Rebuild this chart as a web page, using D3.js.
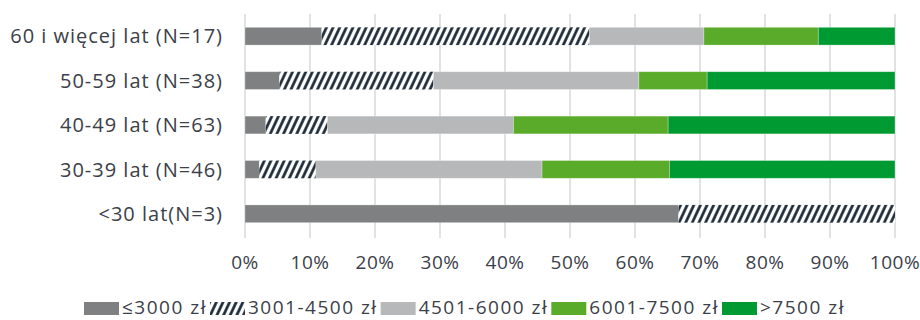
<!DOCTYPE html>
<html><head><meta charset="utf-8">
<script src="https://cdn.jsdelivr.net/npm/d3@7"></script>
<style>html,body{margin:0;padding:0;background:#fff;}svg{display:block;}</style>
</head><body>
<svg id="chart" width="920" height="320"></svg>
<script>
const categories = ["60 i więcej lat (N=17)", "50-59 lat (N=38)", "40-49 lat (N=63)", "30-39 lat (N=46)", "<30 lat(N=3)"];
const seriesNames = ["≤3000 zł", "3001-4500 zł", "4501-6000 zł", "6001-7500 zł", ">7500 zł"];
const s1 = [11.8, 5.3, 3.2, 2.2, 66.7];
const s2 = [41.2, 23.7, 9.5, 8.7, 33.3];
const s3 = [17.6, 31.6, 28.6, 34.8, 0];
const s4 = [17.6, 10.5, 23.8, 19.6, 0];
const s5 = [11.8, 28.9, 34.9, 34.7, 0];
const xTicks = [0, 10, 20, 30, 40, 50, 60, 70, 80, 90, 100];
const colors = ["#7f8081", "url(#hatch)", "#b7b8b9", "#5aab2a", "#009a33"];

const svg = d3.select("#chart");
const font = "'Open Sans', sans-serif";
const textColor = "#3b4049";

const defs = svg.append("defs");
const pat = defs.append("pattern").attr("id", "hatch").attr("patternUnits", "userSpaceOnUse")
  .attr("width", 6).attr("height", 6).attr("patternTransform", "rotate(25)");
pat.append("rect").attr("width", 6).attr("height", 6).attr("fill", "#fff");
pat.append("line").attr("x1", 1.5).attr("y1", 0).attr("x2", 1.5).attr("y2", 6)
  .attr("stroke", "#13202f").attr("stroke-width", 2.6);

const x = d3.scaleLinear().domain([0, 100]).range([245, 895]);
const y = d3.scaleBand().domain(categories).range([14, 236]).paddingInner(0.6).paddingOuter(0.3);

// gridlines
svg.append("g").selectAll("line").data(xTicks).join("line")
  .attr("x1", d => x(d)).attr("x2", d => x(d)).attr("y1", 14).attr("y2", 238)
  .attr("stroke", "#d9d9d9").attr("stroke-width", 1.5);

// stacked bars
const series = [s1, s2, s3, s4, s5];
const rows = categories.map((c, i) => {
  const o = {cat: c};
  seriesNames.forEach((n, k) => o[n] = series[k][i]);
  return o;
});
const stack = d3.stack().keys(seriesNames)(rows);
stack.forEach((layer, k) => {
  svg.append("g").selectAll("rect").data(layer).join("rect")
    .attr("x", d => x(d[0])).attr("width", d => Math.max(0, x(d[1]) - x(d[0])))
    .attr("y", d => y(d.data.cat)).attr("height", y.bandwidth())
    .attr("fill", colors[k])
    .attr("stroke", k === 1 ? "none" : "rgba(255,255,255,0.35)").attr("stroke-width", 0.8);
});

// y labels
svg.append("g").selectAll("text").data(categories).join("text")
  .attr("x", 223).attr("y", d => y(d) + y.bandwidth() / 2)
  .attr("dy", "0.36em").attr("text-anchor", "end")
  .attr("font-family", font).attr("font-size", 20).attr("letter-spacing", 1)
  .attr("fill", textColor)
  .text(d => d);

// x tick labels
svg.append("g").selectAll("text").data(xTicks).join("text")
  .attr("x", d => x(d)).attr("y", 269).attr("text-anchor", "middle")
  .attr("font-family", font).attr("font-size", 19).attr("letter-spacing", 0.5)
  .attr("fill", textColor)
  .text(d => d + "%");

// legend
const lg = svg.append("g");
let cx = 84;
seriesNames.forEach((n, k) => {
  const g = lg.append("g").attr("transform", `translate(${cx},0)`);
  g.append("rect").attr("x", 0).attr("y", 302).attr("width", 35).attr("height", 13).attr("fill", colors[k]);
  const t = g.append("text").attr("x", 38).attr("y", 314)
    .attr("font-family", font).attr("font-size", 19).attr("letter-spacing", 1.5)
    .attr("fill", textColor).text(n);
  cx += 38 + t.node().getComputedTextLength() + 3;
});
</script>
</body></html>
